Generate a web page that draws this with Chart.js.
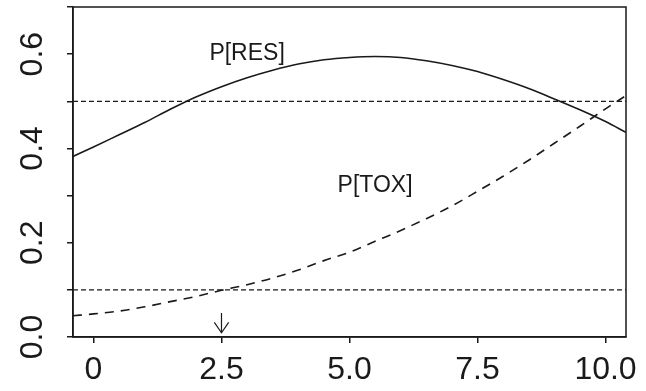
<!DOCTYPE html>
<html>
<head>
<meta charset="utf-8">
<script src="https://cdn.jsdelivr.net/npm/chart.js@4.4.0/dist/chart.umd.min.js"></script>
<style>
  html, body { margin: 0; padding: 0; background: #fff; }
</style>
</head>
<body>
<canvas id="canvas" width="646" height="391"></canvas>
<script>
// dose grid and the two fitted probability curves
var doses = [-0.4, 0, 0.5, 1, 1.5, 2, 2.5, 3, 3.5, 4, 4.5, 5, 5.5, 6, 6.5, 7, 7.5, 8, 8.5, 9, 9.5, 10, 10.4];
var pRes  = [0.383, 0.403, 0.429, 0.455, 0.483, 0.509, 0.531, 0.550, 0.566, 0.579, 0.588, 0.593, 0.595, 0.593, 0.586, 0.576, 0.563, 0.546, 0.527, 0.505, 0.482, 0.457, 0.434];
var pTox  = [0.045, 0.049, 0.055, 0.064, 0.075, 0.086, 0.099, 0.111, 0.125, 0.142, 0.162, 0.180, 0.203, 0.226, 0.251, 0.278, 0.309, 0.341, 0.375, 0.411, 0.447, 0.484, 0.512];

// target levels (response 0.5, toxicity 0.1) and the chosen dose
var levels = [0.5, 0.1];
var chosenDose = 2.5;

var xTicks = [0, 2.5, 5, 7.5, 10];
var yTicks = [0, 0.1, 0.2, 0.3, 0.4, 0.5, 0.6, 0.7];

var curveNames = ['P[RES]', 'P[TOX]'];

var INK = '#1a1a1a';
var FONT = '"Liberation Sans", Arial, sans-serif';

function pts(xs, ys) {
	return xs.map(function (x, i) { return { x: x, y: ys[i] }; });
}

function flat(y) {
	return [{ x: doses[0], y: y }, { x: doses[doses.length - 1], y: y }];
}

var datasets = [
	{ data: pts(doses, pRes), borderColor: INK, borderWidth: 1.6, cubicInterpolationMode: 'monotone' },
	{ data: pts(doses, pTox), borderColor: INK, borderWidth: 1.6, borderDash: [9, 7], cubicInterpolationMode: 'monotone' }
];
levels.forEach(function (lv) {
	datasets.push({ data: flat(lv), borderColor: INK, borderWidth: 1.3, borderDash: [5, 3] });
});
// little down arrow under the chosen dose
datasets.push({ data: [{ x: chosenDose, y: 0.051 }, { x: chosenDose, y: 0.009 }], borderColor: INK, borderWidth: 1.2 });
datasets.push({ data: [{ x: chosenDose - 0.14, y: 0.031 }, { x: chosenDose, y: 0.009 }, { x: chosenDose + 0.14, y: 0.031 }], borderColor: INK, borderWidth: 1.2 });

// box around the plot and the curve names
var frame = {
	id: 'frame',
	afterDatasetsDraw: function (chart) {
		var c = chart.ctx, a = chart.chartArea;
		var xs = chart.scales.x, ys = chart.scales.y;
		c.save();
		c.strokeStyle = INK;
		c.lineWidth = 1.5;
		c.strokeRect(a.left, a.top, a.right - a.left, a.bottom - a.top);
		c.fillStyle = INK;
		c.font = '23px ' + FONT;
		c.textAlign = 'center';
		c.textBaseline = 'middle';
		c.fillText(curveNames[0], xs.getPixelForValue(3), ys.getPixelForValue(0.6));
		c.fillText(curveNames[1], xs.getPixelForValue(5.5), ys.getPixelForValue(0.32));
		c.restore();
	}
};

new Chart('canvas', {
	type: 'line',
	data: { datasets: datasets },
	plugins: [frame],
	options: {
		responsive: false,
		animation: false,
		devicePixelRatio: 1,
		layout: { padding: { left: 0, top: 7, right: 20, bottom: 0 } },
		elements: { point: { radius: 0 } },
		plugins: { legend: { display: false }, tooltip: { enabled: false } },
		scales: {
			x: {
				type: 'linear',
				min: doses[0],
				max: doses[doses.length - 1],
				afterBuildTicks: function (s) { s.ticks = xTicks.map(function (v) { return { value: v }; }); },
				afterFit: function (s) { s.height = 54; s.paddingLeft = 0; s.paddingRight = 0; },
				ticks: {
					autoSkip: false,
					maxRotation: 0,
					padding: 8,
					color: INK,
					font: { family: FONT, size: 32 },
					callback: function (v) { return v === 0 ? '0' : v.toFixed(1); }
				},
				grid: { drawOnChartArea: false, tickLength: 6, color: INK, lineWidth: 1.5 },
				border: { color: INK, width: 1.5 }
			},
			y: {
				min: 0,
				max: 0.7,
				afterBuildTicks: function (s) { s.ticks = yTicks.map(function (v) { return { value: v }; }); },
				afterFit: function (s) { s.width = 73; s.paddingTop = 0; s.paddingBottom = 0; },
				ticks: {
					autoSkip: false,
					minRotation: 90,
					maxRotation: 90,
					crossAlign: 'center',
					padding: 12,
					color: INK,
					font: { family: FONT, size: 32 },
					callback: function (v) { return Math.round(v * 10) % 2 === 0 ? v.toFixed(1) : ''; }
				},
				grid: { drawOnChartArea: false, tickLength: 6, color: INK, lineWidth: 1.5 },
				border: { color: INK, width: 1.5 }
			}
		}
	}
});
</script>
</body>
</html>
